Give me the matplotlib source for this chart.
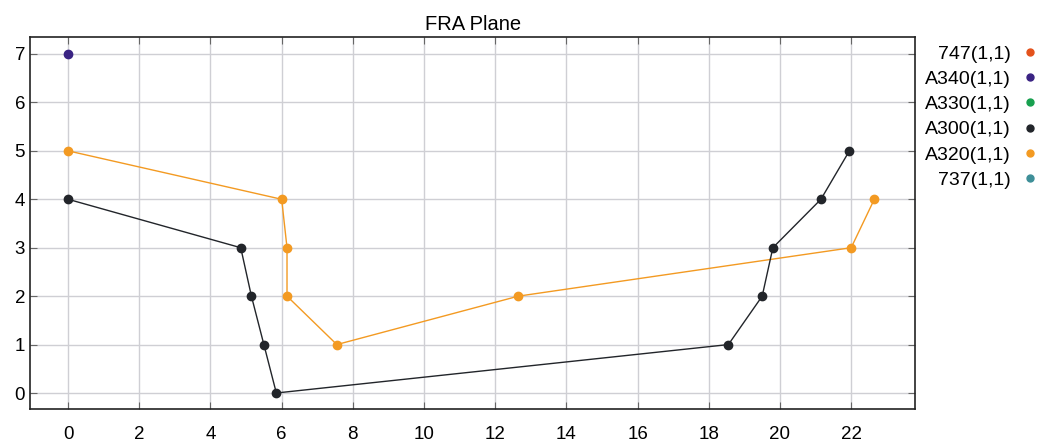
import matplotlib
matplotlib.use("Agg")
import matplotlib.pyplot as plt
from matplotlib.lines import Line2D

plt.rcParams['font.family'] = ['Liberation Sans', 'DejaVu Sans']

series_labels = ["747(1,1)", "A340(1,1)", "A330(1,1)", "A300(1,1)", "A320(1,1)", "737(1,1)"]
series_colors = ["#e4521b", "#3a2383", "#17a04f", "#22252a", "#f39a22", "#3e8f98"]

a340_x = [0.0]
a340_y = [7]

a320_x = [0.0, 6.0, 6.15, 6.15, 7.55, 12.65, 22.0, 22.65]
a320_y = [5, 4, 3, 2, 1, 2, 3, 4]

a300_x = [0.0, 4.85, 5.15, 5.5, 5.85, 18.55, 19.5, 19.8, 21.15, 21.95]
a300_y = [4, 3, 2, 1, 0, 1, 2, 3, 4, 5]

x_ticks = list(range(0, 23, 2))
y_ticks = list(range(0, 8))

fig = plt.figure(figsize=(10.46, 4.41), dpi=100)
ax = fig.add_axes([0.0287, 0.0726, 0.8463, 0.8434])

ax.plot(a340_x, a340_y, 'o', color=series_colors[1], ms=6, zorder=3)
ax.plot(a320_x, a320_y, '-o', color=series_colors[4], ms=6, lw=1.0, zorder=3)
ax.plot(a300_x, a300_y, '-o', color=series_colors[3], ms=6, lw=1.0, zorder=3)

ax.set_xlim(-1.07, 23.8)
ax.set_ylim(-0.33, 7.35)
ax.set_xticks(x_ticks)
ax.set_yticks(y_ticks)
ax.grid(True, color="#cfcfd4", lw=1.0)
ax.set_axisbelow(True)
ax.tick_params(direction='in', top=True, right=True, length=5, color="#666666",
               labelsize=13.5)
ax.tick_params(axis='x', pad=12)
for s in ax.spines.values():
    s.set_color("#222222")
    s.set_linewidth(1.2)
ax.set_title("FRA Plane", fontsize=14.5, pad=5)

handles = [Line2D([], [], ls='none', marker='o', ms=5, color=c) for c in series_colors]
fig.legend(handles, series_labels, loc='upper right', bbox_to_anchor=(1.0, 0.915),
           frameon=False, markerfirst=False, fontsize=14, handlelength=0.8,
           handletextpad=0.6, labelspacing=0.39, borderaxespad=0.0)

fig.savefig("out.png", dpi=100)
